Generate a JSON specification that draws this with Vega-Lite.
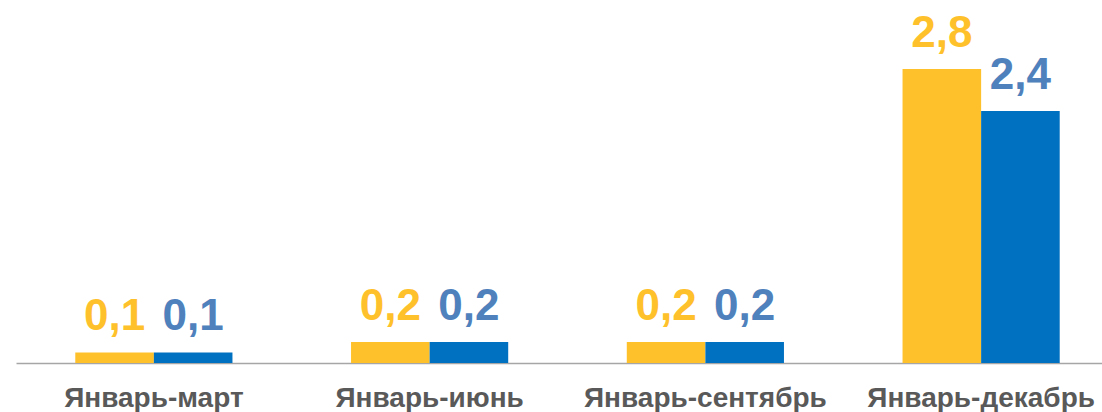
{
  "$schema": "https://vega.github.io/schema/vega-lite/v6.json",
  "autosize": "none",
  "width": 1086,
  "height": 363,
  "padding": {"left": 16, "top": 0, "right": 0, "bottom": 49},
  "background": "white",
  "config": {"view": {"stroke": null}},
  "data": {"values": [
    {"period": "Январь-март", "series": "A", "value": 0.1, "label": "0,1"},
    {"period": "Январь-март", "series": "B", "value": 0.1, "label": "0,1"},
    {"period": "Январь-июнь", "series": "A", "value": 0.2, "label": "0,2"},
    {"period": "Январь-июнь", "series": "B", "value": 0.2, "label": "0,2"},
    {"period": "Январь-сентябрь", "series": "A", "value": 0.2, "label": "0,2"},
    {"period": "Январь-сентябрь", "series": "B", "value": 0.2, "label": "0,2"},
    {"period": "Январь-декабрь", "series": "A", "value": 2.8, "label": "2,8"},
    {"period": "Январь-декабрь", "series": "B", "value": 2.4, "label": "2,4"}
  ]},
  "encoding": {
    "x": {"field": "period", "type": "nominal", "sort": null,
      "scale": {"range": [0, 1103], "paddingInner": 0.43, "paddingOuter": 0.215},
      "axis": {"title": null, "labelAngle": 0, "ticks": false, "domainColor": "#a6a6a6", "domainWidth": 1.5, "labelLimit": 0,
        "labelFont": "Liberation Sans", "labelFontSize": 28, "labelFontWeight": "bold", "labelColor": "#595959", "labelPadding": 21}},
    "xOffset": {"field": "series", "type": "nominal", "scale": {"paddingInner": 0, "paddingOuter": 0}},
    "y": {"field": "value", "type": "quantitative", "scale": {"domain": [0, 3.457], "nice": false}, "axis": null}
  },
  "layer": [
    {"mark": {"type": "bar"},
     "encoding": {"color": {"field": "series", "type": "nominal", "scale": {"domain": ["A", "B"], "range": ["#FFC12B", "#0070C0"]}, "legend": null}}},
    {"mark": {"type": "text", "baseline": "alphabetic", "dy": -22, "font": "Liberation Sans", "fontSize": 44, "fontWeight": "bold"},
     "encoding": {"text": {"field": "label"}, "color": {"field": "series", "type": "nominal", "scale": {"domain": ["A", "B"], "range": ["#FFC12B", "#4F81BD"]}, "legend": null}}}
  ],
  "resolve": {"scale": {"color": "independent"}}
}
